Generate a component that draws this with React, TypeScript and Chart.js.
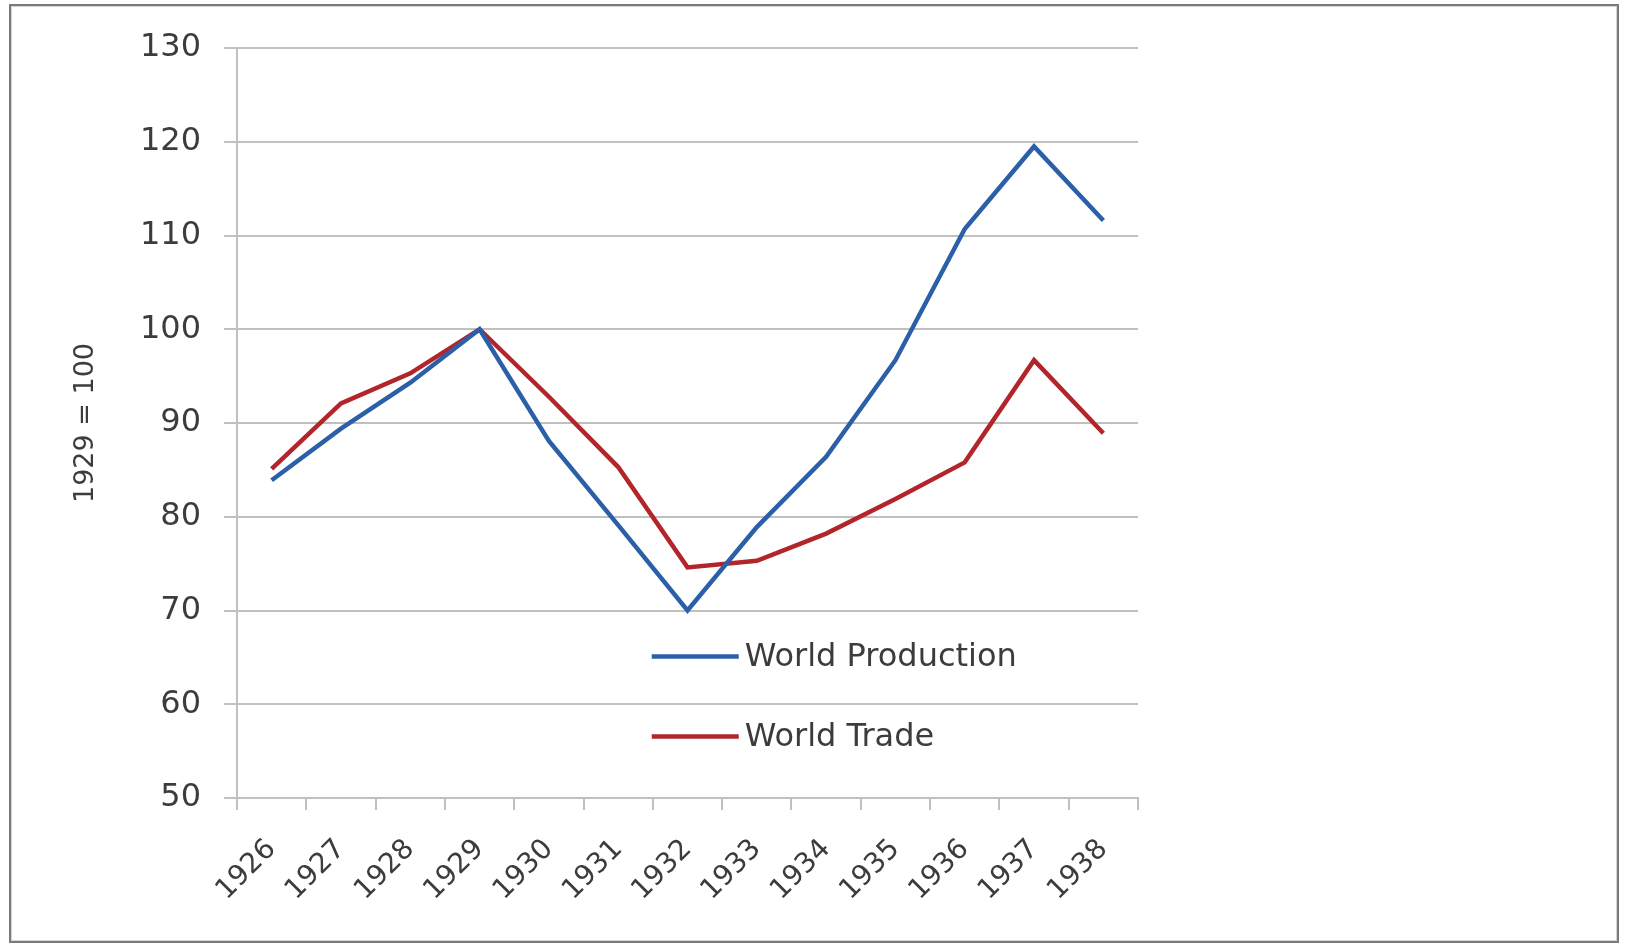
import { useEffect, useRef } from "react";
import { Chart, registerables } from "chart.js";

Chart.register(...registerables);

// Index numbers, 1929 = 100
const years = ["1926", "1927", "1928", "1929", "1930", "1931", "1932", "1933", "1934", "1935", "1936", "1937", "1938"];
const worldProduction = [83.9, 89.4, 94.3, 100, 88.1, 79.1, 70, 78.9, 86.4, 96.7, 110.7, 119.5, 111.6];
const worldTrade = [85.1, 92.1, 95.3, 100, 92.8, 85.3, 74.6, 75.3, 78.2, 81.9, 85.8, 96.7, 88.9];

const yMin = 50;
const yMax = 130;
const yStep = 10;

const FONT = "'DejaVu Sans', 'Liberation Sans', sans-serif";
const TEXT = "#3c3c3c";
const GRID = "#c0c0c0";
const BLUE = "#2b5fa8";
const RED = "#b2252a";

// Legend drawn inside the plot area, below the lines
const insideLegend = {
  id: "insideLegend",
  afterDraw(chart: any) {
    const { ctx, chartArea } = chart;
    const w = chartArea.right - chartArea.left;
    const h = chartArea.bottom - chartArea.top;
    const x0 = chartArea.left + 0.4603 * w;
    const rows = [0.8113, 0.918];
    ctx.save();
    chart.data.datasets.forEach((ds: any, i: number) => {
      const y = chartArea.top + rows[i] * h;
      ctx.strokeStyle = ds.borderColor;
      ctx.lineWidth = 4.5;
      ctx.lineCap = "butt";
      ctx.beginPath();
      ctx.moveTo(x0, y);
      ctx.lineTo(x0 + 87, y);
      ctx.stroke();
      ctx.fillStyle = TEXT;
      ctx.font = `32px ${FONT}`;
      ctx.textAlign = "left";
      ctx.textBaseline = "middle";
      ctx.fillText(ds.label, x0 + 93, y + 1);
    });
    ctx.restore();
  },
};

export default function App() {
  const canvasRef = useRef<HTMLCanvasElement | null>(null);

  useEffect(() => {
    const canvas = canvasRef.current;
    if (!canvas) return;
    const chart = new Chart(canvas, {
      type: "line",
      data: {
        labels: years,
        datasets: [
          { label: "World Production", data: worldProduction, borderColor: BLUE, backgroundColor: BLUE },
          { label: "World Trade", data: worldTrade, borderColor: RED, backgroundColor: RED },
        ],
      },
      options: {
        animation: false,
        responsive: false,
        maintainAspectRatio: false,
        layout: { padding: { left: 0, top: 48, right: 488, bottom: 0 } },
        plugins: { legend: { display: false }, tooltip: { enabled: false } },
        elements: {
          point: { radius: 0, hoverRadius: 0 },
          line: { tension: 0, borderWidth: 4.5, borderJoinStyle: "miter", borderCapStyle: "butt" },
        },
        scales: {
          x: {
            type: "category",
            offset: true,
            grid: {
              display: true,
              drawOnChartArea: false,
              drawTicks: true,
              tickLength: 12,
              offset: true,
              color: GRID,
              lineWidth: 2,
            },
            border: { display: true, color: GRID, width: 2 },
            ticks: {
              minRotation: 45,
              maxRotation: 45,
              autoSkip: false,
              padding: 23,
              color: TEXT,
              font: { family: FONT, size: 28 },
            },
            afterFit: (s: any) => {
              s.height = 146;
            },
          },
          y: {
            min: yMin,
            max: yMax,
            ticks: { stepSize: yStep, padding: 23, color: TEXT, font: { family: FONT, size: 32 } },
            grid: { color: GRID, lineWidth: 2, tickLength: 13, drawTicks: true },
            border: { display: true, color: GRID, width: 2 },
            title: {
              display: true,
              text: "1929 = 100",
              color: TEXT,
              font: { family: FONT, size: 27 },
              padding: { top: 70, bottom: 0 },
            },
            afterFit: (s: any) => {
              s.width = 237;
            },
          },
        },
      },
      plugins: [insideLegend],
    });
    return () => chart.destroy();
  }, []);

  return (
    <div style={{ position: "fixed", left: 0, top: 0, width: 1626, height: 944, background: "#fff" }}>
      <div
        style={{
          position: "absolute",
          left: 9,
          top: 4,
          width: 1610,
          height: 939,
          boxSizing: "border-box",
          border: "2px solid #7a7a7a",
          boxShadow: "inset 0 0 0 1px #d6d6d6",
        }}
      />
      <canvas
        ref={canvasRef}
        width={1626}
        height={944}
        style={{ position: "absolute", left: 0, top: 0, width: 1626, height: 944 }}
      />
    </div>
  );
}
